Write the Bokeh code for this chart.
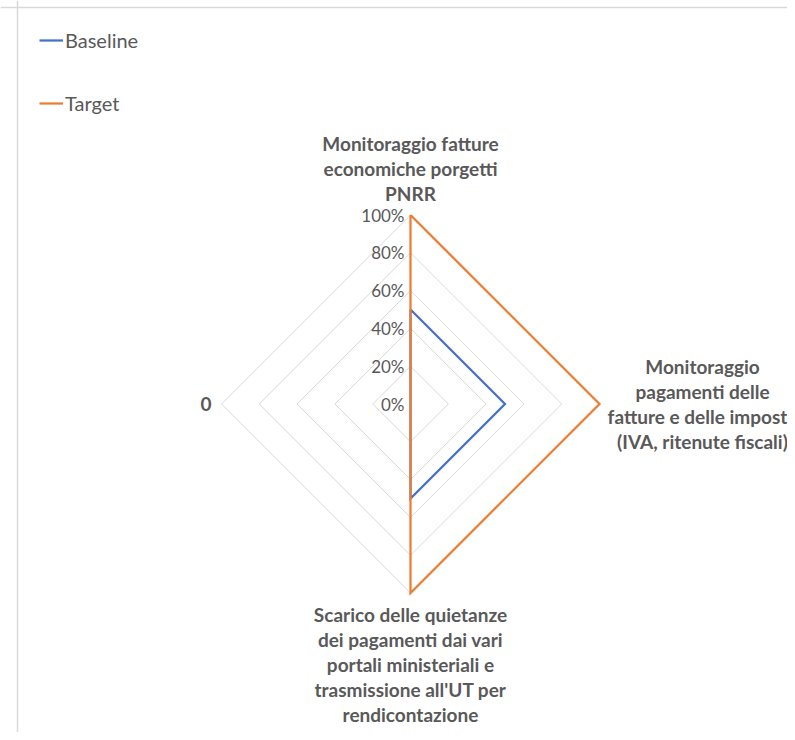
import numpy as np
from bokeh.plotting import figure
from bokeh.models import Legend, LegendItem, Span, ColumnDataSource
from bokeh.core.properties import value
from bokeh.embed import file_html
from bokeh.resources import INLINE

# ---- data ----
categories = [
    "Monitoraggio fatture\neconomiche porgetti\nPNRR",
    "Monitoraggio\npagamenti delle\nfatture e delle imposte\n(IVA, ritenute fiscali)",
    "Scarico delle quietanze\ndei pagamenti dai vari\nportali ministeriali e\ntrasmissione all'UT per\nrendicontazione",
    "0",
]
baseline = [0.5, 0.5, 0.5, 0.0]
target = [1.0, 1.0, 1.0, 0.0]
ring_values = [0.2, 0.4, 0.6, 0.8, 1.0]
tick_values = [0.0, 0.2, 0.4, 0.6, 0.8, 1.0]
tick_labels = ["0%", "20%", "40%", "60%", "80%", "100%"]

# ---- layout ----
W, H = 787, 732
R = 189.0              # pixels per 100%
cx, cy = 410.0, 403.5  # centre in canvas pixels

p = figure(width=W, height=H, output_backend="svg", toolbar_location=None,
           x_range=(-cx / R, (W - cx) / R), y_range=((cy - H) / R, cy / R),
           min_border=0, min_border_left=0, min_border_right=0,
           min_border_top=0, min_border_bottom=0)
p.axis.visible = False
p.grid.visible = False
p.outline_line_color = None
p.background_fill_color = "white"
p.border_fill_color = "white"

n = len(categories)
angles = np.pi / 2 - 2 * np.pi * np.arange(n) / n   # clockwise from top
ux, uy = np.cos(angles), np.sin(angles)

GRID = "#D9D9D9"
TXT = "#595959"
FONT = "Lato"

# chart area border (left and top edges)
p.add_layout(Span(location=(-cx + 17) / R, dimension="height", line_color=GRID, line_width=1.5))
p.add_layout(Span(location=(cy - 7) / R, dimension="width", line_color=GRID, line_width=1.5))

# rings
ring_xs = [list(np.append(ux * r, ux[0] * r)) for r in ring_values]
ring_ys = [list(np.append(uy * r, uy[0] * r)) for r in ring_values]
p.multi_line(ring_xs, ring_ys, line_color=GRID, line_width=1)

# series
def closed(vals):
    v = np.array(vals)
    xs = np.append(ux * v, ux[0] * v[0])
    ys = np.append(uy * v, uy[0] * v[0])
    return xs, ys

bx, by = closed(baseline)
tx, ty = closed(target)
r_base = p.line(bx, by, line_color="#4472C4", line_width=2.25, line_join="miter")
r_targ = p.line(tx, ty, line_color="#ED7D31", line_width=2.25, line_join="miter")

# tick labels
p.text(x=[0.0] * len(tick_values), y=tick_values, text=tick_labels,
       text_align="right", text_baseline="middle", x_offset=-6,
       text_font=value(FONT), text_font_size="17px", text_color=TXT)

# category labels
lab_src = ColumnDataSource(dict(
    x=list(ux), y=list(uy), text=categories,
    xo=[0, 103, 0, -10], yo=[-10, 0, 10, 0],
    align=["center", "center", "center", "right"],
    base=["bottom", "middle", "top", "middle"],
))
p.text(x="x", y="y", text="text", source=lab_src, x_offset="xo", y_offset="yo",
       text_align="align", text_baseline="base", text_font=value(FONT),
       text_font_style="bold", text_font_size="19px", text_color=TXT,
       text_line_height=1.09)

legend = Legend(items=[LegendItem(label="Baseline", renderers=[r_base]),
                       LegendItem(label="Target", renderers=[r_targ])],
                location=(39, 617), orientation="vertical", spacing=39,
                glyph_width=24, glyph_height=24, label_height=24,
                label_standoff=2, padding=0, margin=0,
                label_text_font=FONT, label_text_font_size="20px",
                label_text_color=TXT, border_line_color=None,
                background_fill_alpha=0)
p.add_layout(legend)

open("out.html", "w").write(file_html(p, INLINE))
